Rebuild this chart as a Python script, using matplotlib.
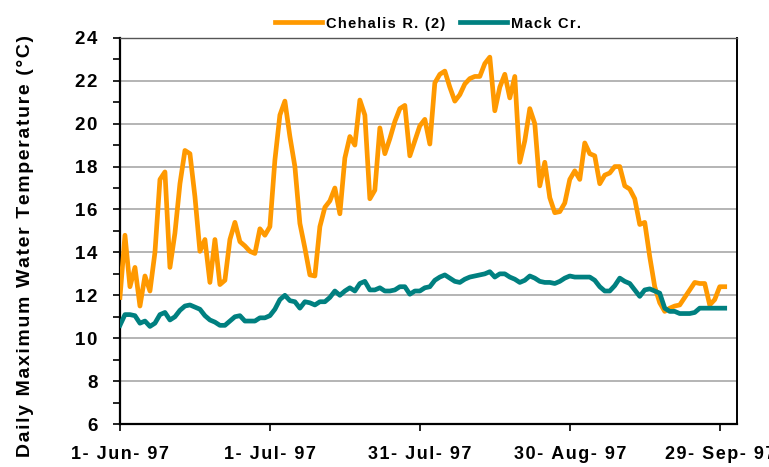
import pandas as pd
import matplotlib
matplotlib.use("Agg")
import matplotlib.pyplot as plt
from matplotlib.ticker import MultipleLocator, FixedLocator

START = "1997-06-01"

# daily maximum water temperature (deg C), one value per day from 1 Jun 97
chehalis = [11.9, 14.8, 12.4, 13.3, 11.5, 12.9, 12.2, 14.0, 17.4, 17.75,
            13.3, 14.9, 17.2, 18.75, 18.6, 16.6, 14.05, 14.6, 12.6, 14.6,
            12.5, 12.7, 14.6, 15.4, 14.5, 14.3, 14.05, 13.95, 15.1, 14.8,
            15.2, 18.3, 20.4, 21.05, 19.4, 18.0, 15.35, 14.2, 12.95, 12.9,
            15.2, 16.1, 16.4, 17.0, 15.8, 18.4, 19.4, 19.0, 21.1, 20.4,
            16.5, 16.9, 19.8, 18.6, 19.3, 20.1, 20.7, 20.85, 18.5, 19.2,
            19.9, 20.2, 19.05, 21.9, 22.3, 22.45, 21.7, 21.05, 21.35, 21.85,
            22.1, 22.2, 22.2, 22.8, 23.1, 20.6, 21.7, 22.3, 21.2, 22.2,
            18.2, 19.2, 20.7, 20.0, 17.1, 18.2, 16.55, 15.85, 15.9, 16.3,
            17.4, 17.8, 17.4, 19.1, 18.6, 18.5, 17.2, 17.6, 17.7, 18.0,
            18.0, 17.1, 16.95, 16.5, 15.3, 15.4, 13.8, 12.4, 11.65, 11.25,
            11.4, 11.5, 11.55, 11.9, 12.25, 12.6, 12.55, 12.55, 11.55, 11.8,
            12.4, 12.4]

mack = [10.6, 11.1, 11.1, 11.05, 10.7, 10.8, 10.55, 10.7, 11.1, 11.2,
        10.85, 11.0, 11.3, 11.5, 11.55, 11.45, 11.35, 11.05, 10.85, 10.75,
        10.6, 10.6, 10.8, 11.0, 11.05, 10.8, 10.8, 10.8, 10.95, 10.95,
        11.05, 11.35, 11.8, 12.0, 11.75, 11.7, 11.4, 11.7, 11.65, 11.55,
        11.7, 11.7, 11.9, 12.2, 12.0, 12.2, 12.35, 12.2, 12.55, 12.65,
        12.25, 12.25, 12.35, 12.2, 12.2, 12.25, 12.4, 12.4, 12.05, 12.2,
        12.2, 12.35, 12.4, 12.7, 12.85, 12.95, 12.8, 12.65, 12.6, 12.75,
        12.85, 12.9, 12.95, 13.0, 13.1, 12.85, 13.0, 13.0, 12.85, 12.75,
        12.6, 12.7, 12.9, 12.8, 12.65, 12.6, 12.6, 12.55, 12.65, 12.8,
        12.9, 12.85, 12.85, 12.85, 12.85, 12.7, 12.4, 12.2, 12.2, 12.45,
        12.8, 12.65, 12.55, 12.25, 11.95, 12.25, 12.3, 12.2, 12.1, 11.4,
        11.25, 11.25, 11.15, 11.15, 11.15, 11.2, 11.4, 11.4, 11.4, 11.4,
        11.4, 11.4]

tick_dates = ["1997-06-01", "1997-07-01", "1997-07-31", "1997-08-30", "1997-09-29"]
tick_labels = ["1- Jun- 97", "1- Jul- 97", "31- Jul- 97", "30- Aug- 97", "29- Sep- 97"]
y_ticks = [6, 8, 10, 12, 14, 16, 18, 20, 22, 24]


def spaced(s, gap='\u200a'):
    # old Excel export draws text with wide letter spacing
    return gap.join(s)


plt.rcParams['font.family'] = ['Liberation Sans', 'DejaVu Sans']
plt.rcParams['font.weight'] = 'bold'

days = pd.date_range(START, periods=len(chehalis), freq="D")

fig = plt.figure(figsize=(7.69, 4.67), dpi=100)
ax = fig.add_axes([0.156, 0.092, 0.802, 0.827])

ax.plot(days, chehalis, color='#FF9900', lw=3.4, label=spaced('Chehalis R. (2)'),
        solid_joinstyle='round', zorder=3)
ax.plot(days, mack, color='#008080', lw=3.4, label=spaced('Mack Cr.'),
        solid_joinstyle='round', zorder=3)

x0 = pd.Timestamp(START)
ax.set_xlim(x0, x0 + pd.Timedelta(days=123.4))
ax.set_ylim(6, 24)

ax.yaxis.set_major_locator(FixedLocator(y_ticks))
ax.set_yticklabels([spaced(str(v)) for v in y_ticks])
ax.yaxis.set_minor_locator(MultipleLocator(1))
ax.set_xticks(pd.to_datetime(tick_dates))
ax.set_xticklabels([spaced(t) for t in tick_labels])

ax.grid(axis='y', which='major', color='#b4b4b4', lw=1.4, zorder=0)
ax.tick_params(axis='both', which='both', direction='out', length=5,
               width=1.2, color='black')
ax.tick_params(axis='y', which='major', labelsize=13.5, pad=11)
ax.tick_params(axis='x', labelsize=13, pad=11)
for lbl in ax.get_xticklabels() + ax.get_yticklabels():
    lbl.set_fontweight('bold')

for side in ['left', 'bottom']:
    ax.spines[side].set_linewidth(1.6)
ax.spines['top'].set_linewidth(1.0)
ax.spines['top'].set_color('#555555')
ax.spines['right'].set_linewidth(1.4)

ax.set_ylabel(spaced('Daily Maximum Water Temperature (°C)'), fontsize=14,
              fontweight='bold')
ax.yaxis.set_label_coords(-0.14, 0.462)

leg = ax.legend(loc='lower center', bbox_to_anchor=(0.5, 1.0), ncol=2,
                frameon=False, fontsize=10.5, handlelength=3.2,
                columnspacing=1.0, handletextpad=0.3, borderaxespad=0.1)
for line in leg.get_lines():
    line.set_linewidth(3.4)

fig.savefig('out.png', dpi=100)
